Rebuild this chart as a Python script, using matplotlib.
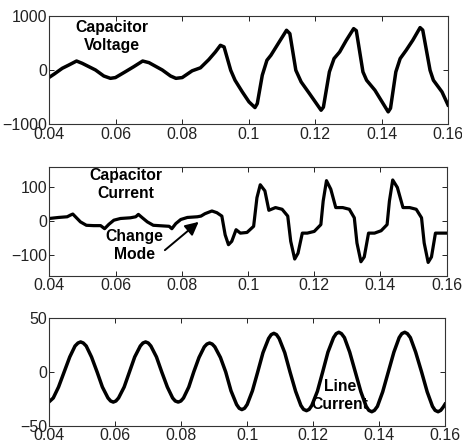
import numpy as np
import matplotlib
matplotlib.use("Agg")
import matplotlib.pyplot as plt

plt.rcParams["font.family"] = ["Liberation Sans", "DejaVu Sans"]

# capacitor voltage (V) vs time (s)
vc_t = [0.0400, 0.0415, 0.0439, 0.0459, 0.0482, 0.0499, 0.0539, 0.0564, 0.0584,
        0.0599, 0.0629, 0.0654, 0.0681, 0.0700, 0.0740, 0.0765, 0.0781, 0.0800,
        0.0830, 0.0855, 0.0880, 0.0900, 0.0915, 0.0926, 0.0946, 0.0959, 0.0981,
        0.1001, 0.1019, 0.1026, 0.1041, 0.1055, 0.1067, 0.1092, 0.1114, 0.1124,
        0.1142, 0.1158, 0.1183, 0.1218, 0.1225, 0.1243, 0.1257, 0.1274, 0.1294,
        0.1316, 0.1324, 0.1344, 0.1355, 0.1380, 0.1420, 0.1427, 0.1443, 0.1456,
        0.1474, 0.1494, 0.1516, 0.1524, 0.1546, 0.1556, 0.1582, 0.1600]
vc_v = [-130, -69, 36, 97, 170, 128, 5, -106, -149,
        -135, -27, 65, 170, 140, 5, -106, -149, -135,
        -10, 45, 196, 338, 460, 430, 0, -184, -400,
        -583, -688, -614, -92, 184, 276, 522, 737, 675,
        0, -215, -430, -737, -680, -30, 215, 338, 553,
        767, 730, -30, -184, -368, -767, -700, -30, 215,
        368, 553, 786, 740, 0, -184, -400, -640]

# capacitor current (A) vs time (s)
ic_t = [0.0400, 0.0428, 0.0454, 0.0464, 0.0471, 0.0479, 0.0494, 0.0512, 0.0534,
        0.0555, 0.0567, 0.0580, 0.0595, 0.0615, 0.0645, 0.0661, 0.0669, 0.0681,
        0.0696, 0.0714, 0.0746, 0.0762, 0.0770, 0.0782, 0.0797, 0.0817, 0.0847,
        0.0858, 0.0870, 0.0891, 0.0906, 0.0921, 0.0931, 0.0941, 0.0951, 0.0964,
        0.0977, 0.0997, 0.1017, 0.1027, 0.1037, 0.1051, 0.1063, 0.1083, 0.1103,
        0.1120, 0.1129, 0.1141, 0.1151, 0.1164, 0.1179, 0.1200, 0.1220, 0.1227,
        0.1237, 0.1250, 0.1265, 0.1286, 0.1306, 0.1321, 0.1329, 0.1341, 0.1351,
        0.1364, 0.1382, 0.1402, 0.1420, 0.1427, 0.1437, 0.1451, 0.1468, 0.1488,
        0.1508, 0.1524, 0.1532, 0.1544, 0.1554, 0.1566, 0.1600]
ic_v = [8, 11, 13, 18, 21, 13, -2, -12, -13,
        -13, -22, -9, 3, 8, 10, 13, 20, 10,
        -2, -12, -14, -15, -22, -7, 5, 11, 13,
        15, 22, 30, 25, 15, -40, -69, -59, -25,
        -35, -33, -15, 69, 107, 89, 32, 40, 35,
        15, -59, -111, -94, -35, -35, -30, -10, 59,
        119, 94, 40, 40, 35, 10, -64, -119, -105,
        -35, -35, -28, -10, 59, 121, 99, 40, 40,
        35, 10, -64, -121, -105, -35, -35]

# line current (A) vs time (s)
il_t = [0.0400, 0.0412, 0.0428,
        0.0445, 0.0462, 0.0478, 0.0487, 0.0495, 0.0503, 0.0512, 0.0528,
        0.0545, 0.0561, 0.0578, 0.0586, 0.0594, 0.0602, 0.0610, 0.0627,
        0.0643, 0.0659, 0.0676, 0.0684, 0.0692, 0.0700, 0.0708, 0.0725,
        0.0741, 0.0758, 0.0774, 0.0782, 0.0791, 0.0799, 0.0807, 0.0823,
        0.0838, 0.0854, 0.0870, 0.0878, 0.0886, 0.0894, 0.0902, 0.0919,
        0.0935, 0.0951, 0.0968, 0.0976, 0.0984, 0.0992, 0.1000, 0.1016,
        0.1032, 0.1048, 0.1065, 0.1073, 0.1081, 0.1089, 0.1097, 0.1114,
        0.1130, 0.1147, 0.1163, 0.1171, 0.1180, 0.1188, 0.1196, 0.1213,
        0.1229, 0.1245, 0.1262, 0.1270, 0.1278, 0.1286, 0.1295, 0.1311,
        0.1328, 0.1345, 0.1361, 0.1369, 0.1378, 0.1386, 0.1395, 0.1411,
        0.1428, 0.1445, 0.1461, 0.1469, 0.1478, 0.1486, 0.1495, 0.1511,
        0.1529, 0.1546, 0.1562, 0.1570, 0.1579, 0.1587, 0.1595, 0.1600]
il_v = [-27.6, -24.2, -14,
        0, 14, 24.2, 27, 28, 27, 24.2, 14,
        0, -14, -24.2, -27, -28, -27, -24.2, -14,
        0, 14, 24.2, 27, 28, 27, 24.2, 14,
        0, -14, -24.2, -27, -28, -27, -24.2, -14,
        0, 13.5, 23.4, 26, 27, 26, 23.4, 13.5,
        0, -17.5, -30.3, -33.8, -35, -33.8, -30.3, -17.5,
        0, 18, 31.2, 34.8, 36, 34.8, 31.2, 18,
        0, -18, -31.2, -34.8, -36, -34.8, -31.2, -18,
        0, 18.5, 32, 35.7, 37, 35.7, 32, 18.5,
        0, -18.5, -32, -35.7, -37, -35.7, -32, -18.5,
        0, 18.5, 32, 35.7, 37, 35.7, 32, 18.5,
        0, -18.5, -32, -35.7, -37, -35.7, -32.5, -30]

xticks = [0.04, 0.06, 0.08, 0.1, 0.12, 0.14, 0.16]
xlabels = ["0.04", "0.06", "0.08", "0.1", "0.12", "0.14", "0.16"]

W, H = 462, 448
fig = plt.figure(figsize=(W / 100, H / 100), dpi=100)


def box(l, r, t, b):
    return [l / W, 1 - b / H, (r - l) / W, (b - t) / H]


ax1 = fig.add_axes(box(49.3, 448, 16, 124.5))
ax2 = fig.add_axes(box(49.3, 446.7, 166.7, 275.7))
ax3 = fig.add_axes(box(49.3, 445, 318.3, 425.7))

ax1.plot(vc_t, vc_v, color="black", lw=2.5, solid_joinstyle="round")
ax1.set_ylim(-1000, 1000)
ax1.set_yticks([-1000, 0, 1000])

ax2.plot(ic_t, ic_v, color="black", lw=2.3, solid_joinstyle="round")
ax2.set_ylim(-160, 160)
ax2.set_yticks([-100, 0, 100])

ax3.plot(il_t, il_v, color="black", lw=2.5, solid_joinstyle="round")
ax3.set_ylim(-50, 50)
ax3.set_yticks([-50, 0, 50])

for ax in (ax1, ax2, ax3):
    ax.set_xlim(0.04, 0.16)
    ax.set_xticks(xticks)
    ax.set_xticklabels(xlabels)
    ax.tick_params(direction="in", top=True, right=True, length=3.5,
                   width=0.7, labelsize=11.5, pad=1.5, colors="#222222")
    for s in ax.spines.values():
        s.set_color("#333333")
        s.set_linewidth(0.8)

lbl = dict(ha="center", va="center", fontsize=11.3, fontweight="bold",
           linespacing=1.25)
ax1.text(0.0589, 631, "Capacitor\nVoltage", **lbl)
ax2.text(0.0632, 109, "Capacitor\nCurrent", **lbl)
ax2.text(0.0656, -70, "Change\nMode", **lbl)
ax2.annotate("", xy=(0.0851, -2), xytext=(0.0749, -85),
             arrowprops=dict(arrowstyle="-|>", color="black", lw=1.4,
                             mutation_scale=20, shrinkA=0, shrinkB=0))
ax3.text(0.1282, -22, "Line\nCurrent", **lbl)

fig.savefig("out.png", dpi=100)
